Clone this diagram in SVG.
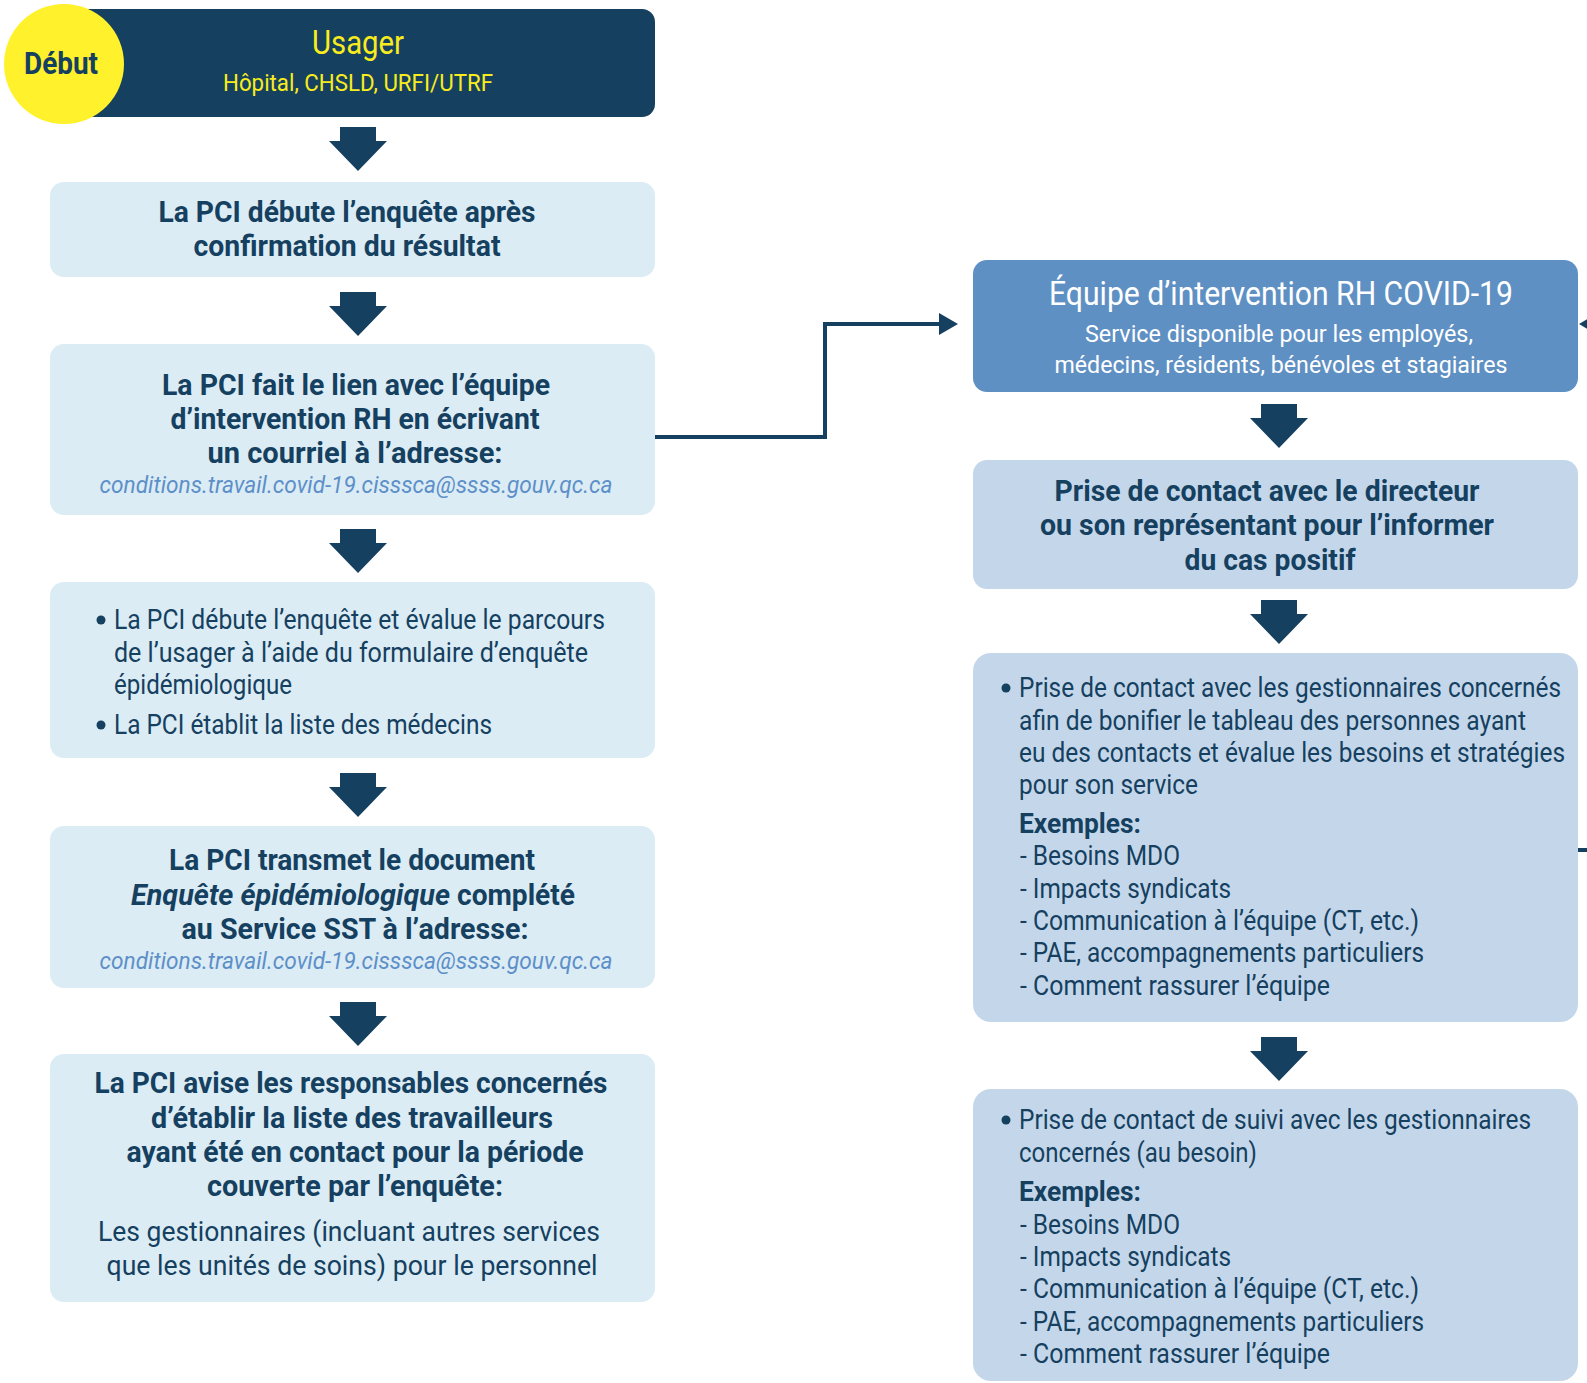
<svg xmlns="http://www.w3.org/2000/svg" width="1587" height="1383" viewBox="0 0 1587 1383">
<style>
text{font-family:Roboto,"Liberation Sans",sans-serif}
.lb{fill:#dbecf5}
.rb{fill:#c4d7ea}
.tb{fill:#5f90c3}
.nv{fill:#15405f}
.h{font-weight:bold;font-size:29px;fill:#15405f;text-anchor:middle}
.hl{font-weight:bold;font-size:29px;fill:#15405f}
.r{font-size:27px;fill:#15405f}
.rc{font-size:28px;fill:#15405f;text-anchor:middle}
.em{font-style:italic;font-size:23px;fill:#5d8fc8;text-anchor:middle}
.eb{font-weight:bold;font-size:27px;fill:#15405f}
.conn{fill:none;stroke:#15405f;stroke-width:4}
</style>
<defs>
<path id="dn" d="M-18,0 H18 V14 H29 L0,44 L-29,14 H-18 Z" fill="#15405f"/>
</defs>

<g id="connectors">
<use href="#dn" x="358" y="127"/>
<use href="#dn" x="358" y="292"/>
<use href="#dn" x="358" y="529"/>
<use href="#dn" x="358" y="773"/>
<use href="#dn" x="358" y="1002"/>
<use href="#dn" x="1279" y="404"/>
<use href="#dn" x="1279" y="600"/>
<use href="#dn" x="1279" y="1037"/>
<polyline class="conn" points="655,437 825,437 825,324 941,324"/>
<polygon points="939,313 958,324 939,335" fill="#15405f"/>
<line class="conn" x1="1578" y1="850" x2="1590" y2="850"/>
<polygon points="1579,324 1598,313 1598,335" fill="#15405f"/>
</g>

<g id="usager">
<rect x="76" y="9" width="579" height="108" rx="13" class="nv"/>
<text x="358" y="54" font-size="34" fill="#f8ec1e" text-anchor="middle" textLength="92" lengthAdjust="spacingAndGlyphs">Usager</text>
<text x="358" y="91" font-size="24" fill="#f8ec1e" text-anchor="middle" textLength="270" lengthAdjust="spacingAndGlyphs">Hôpital, CHSLD, URFI/UTRF</text>
</g>
<g id="debut">
<circle cx="64" cy="64" r="60" fill="#fff12c"/>
<text x="61" y="74" font-size="31" font-weight="bold" fill="#15405f" text-anchor="middle" textLength="74" lengthAdjust="spacingAndGlyphs">Début</text>
</g>

<g id="box1">
<rect x="50" y="182" width="605" height="95" rx="14" class="lb"/>
<text class="h" x="347" y="222" textLength="377" lengthAdjust="spacingAndGlyphs">La PCI débute l’enquête après</text>
<text class="h" x="347" y="256" textLength="307" lengthAdjust="spacingAndGlyphs">confirmation du résultat</text>
</g>

<g id="box2">
<rect x="50" y="344" width="605" height="171" rx="14" class="lb"/>
<text class="h" x="356" y="395" textLength="388" lengthAdjust="spacingAndGlyphs">La PCI fait le lien avec l’équipe</text>
<text class="h" x="355" y="429" textLength="369" lengthAdjust="spacingAndGlyphs">d’intervention RH en écrivant</text>
<text class="h" x="355" y="463" textLength="295" lengthAdjust="spacingAndGlyphs">un courriel à l’adresse:</text>
<text class="em" x="356" y="493" textLength="513" lengthAdjust="spacingAndGlyphs">conditions.travail.covid-19.cisssca@ssss.gouv.qc.ca</text>
</g>

<g id="box3">
<rect x="50" y="582" width="605" height="176" rx="14" class="lb"/>
<circle cx="101" cy="620" r="4.5" class="nv"/>
<text class="r" x="114" y="629" textLength="491" lengthAdjust="spacingAndGlyphs">La PCI débute l’enquête et évalue le parcours</text>
<text class="r" x="114" y="662" textLength="474" lengthAdjust="spacingAndGlyphs">de l’usager à l’aide du formulaire d’enquête</text>
<text class="r" x="114" y="694" textLength="178" lengthAdjust="spacingAndGlyphs">épidémiologique</text>
<circle cx="101" cy="725" r="4.5" class="nv"/>
<text class="r" x="114" y="734" textLength="378" lengthAdjust="spacingAndGlyphs">La PCI établit la liste des médecins</text>
</g>

<g id="box4">
<rect x="50" y="826" width="605" height="162" rx="14" class="lb"/>
<text class="h" x="352" y="870" textLength="366" lengthAdjust="spacingAndGlyphs">La PCI transmet le document</text>
<text class="hl" x="131" y="905" font-style="italic" textLength="319" lengthAdjust="spacingAndGlyphs">Enquête épidémiologique</text>
<text class="hl" x="457" y="905" textLength="118" lengthAdjust="spacingAndGlyphs">complété</text>
<text class="h" x="355" y="939" textLength="347" lengthAdjust="spacingAndGlyphs">au Service SST à l’adresse:</text>
<text class="em" x="356" y="969" textLength="513" lengthAdjust="spacingAndGlyphs">conditions.travail.covid-19.cisssca@ssss.gouv.qc.ca</text>
</g>

<g id="box5">
<rect x="50" y="1054" width="605" height="248" rx="14" class="lb"/>
<text class="h" x="351" y="1093" textLength="513" lengthAdjust="spacingAndGlyphs">La PCI avise les responsables concernés</text>
<text class="h" x="352" y="1128" textLength="402" lengthAdjust="spacingAndGlyphs">d’établir la liste des travailleurs</text>
<text class="h" x="355" y="1162" textLength="457" lengthAdjust="spacingAndGlyphs">ayant été en contact pour la période</text>
<text class="h" x="355" y="1196" textLength="296" lengthAdjust="spacingAndGlyphs">couverte par l’enquête:</text>
<text class="rc" x="349" y="1241" textLength="502" lengthAdjust="spacingAndGlyphs">Les gestionnaires (incluant autres services</text>
<text class="rc" x="352" y="1275" textLength="491" lengthAdjust="spacingAndGlyphs">que les unités de soins) pour le personnel</text>
</g>

<g id="equipe">
<rect x="973" y="260" width="605" height="132" rx="14" class="tb"/>
<text x="1281" y="305" font-size="33" fill="#ffffff" text-anchor="middle" textLength="464" lengthAdjust="spacingAndGlyphs">Équipe d’intervention RH COVID-19</text>
<text x="1279" y="342" font-size="24" fill="#ffffff" text-anchor="middle" textLength="388" lengthAdjust="spacingAndGlyphs">Service disponible pour les employés,</text>
<text x="1281" y="373" font-size="24" fill="#ffffff" text-anchor="middle" textLength="453" lengthAdjust="spacingAndGlyphs">médecins, résidents, bénévoles et stagiaires</text>
</g>

<g id="directeur">
<rect x="973" y="460" width="605" height="129" rx="14" class="rb"/>
<text class="h" x="1267" y="501" textLength="425" lengthAdjust="spacingAndGlyphs">Prise de contact avec le directeur</text>
<text class="h" x="1267" y="535" textLength="454" lengthAdjust="spacingAndGlyphs">ou son représentant pour l’informer</text>
<text class="h" x="1270" y="570" textLength="171" lengthAdjust="spacingAndGlyphs">du cas positif</text>
</g>

<g id="gestionnaires">
<rect x="973" y="653" width="605" height="369" rx="18" class="rb"/>
<circle cx="1006" cy="688" r="4.5" class="nv"/>
<text class="r" x="1019" y="697" textLength="542" lengthAdjust="spacingAndGlyphs">Prise de contact avec les gestionnaires concernés</text>
<text class="r" x="1019" y="730" textLength="507" lengthAdjust="spacingAndGlyphs">afin de bonifier le tableau des personnes ayant</text>
<text class="r" x="1019" y="762" textLength="546" lengthAdjust="spacingAndGlyphs">eu des contacts et évalue les besoins et stratégies</text>
<text class="r" x="1019" y="794" textLength="179" lengthAdjust="spacingAndGlyphs">pour son service</text>
<text class="eb" x="1019" y="833" textLength="122" lengthAdjust="spacingAndGlyphs">Exemples:</text>
<text class="r" x="1020" y="865" textLength="160" lengthAdjust="spacingAndGlyphs">- Besoins MDO</text>
<text class="r" x="1020" y="898" textLength="211" lengthAdjust="spacingAndGlyphs">- Impacts syndicats</text>
<text class="r" x="1020" y="930" textLength="399" lengthAdjust="spacingAndGlyphs">- Communication à l’équipe (CT, etc.)</text>
<text class="r" x="1020" y="962" textLength="404" lengthAdjust="spacingAndGlyphs">- PAE, accompagnements particuliers</text>
<text class="r" x="1020" y="995" textLength="310" lengthAdjust="spacingAndGlyphs">- Comment rassurer l’équipe</text>
</g>

<g id="suivi">
<rect x="973" y="1089" width="605" height="292" rx="18" class="rb"/>
<circle cx="1006" cy="1120" r="4.5" class="nv"/>
<text class="r" x="1019" y="1129" textLength="512" lengthAdjust="spacingAndGlyphs">Prise de contact de suivi avec les gestionnaires</text>
<text class="r" x="1019" y="1162" textLength="238" lengthAdjust="spacingAndGlyphs">concernés (au besoin)</text>
<text class="eb" x="1019" y="1201" textLength="122" lengthAdjust="spacingAndGlyphs">Exemples:</text>
<text class="r" x="1020" y="1234" textLength="160" lengthAdjust="spacingAndGlyphs">- Besoins MDO</text>
<text class="r" x="1020" y="1266" textLength="211" lengthAdjust="spacingAndGlyphs">- Impacts syndicats</text>
<text class="r" x="1020" y="1298" textLength="399" lengthAdjust="spacingAndGlyphs">- Communication à l’équipe (CT, etc.)</text>
<text class="r" x="1020" y="1331" textLength="404" lengthAdjust="spacingAndGlyphs">- PAE, accompagnements particuliers</text>
<text class="r" x="1020" y="1363" textLength="310" lengthAdjust="spacingAndGlyphs">- Comment rassurer l’équipe</text>
</g>
</svg>
